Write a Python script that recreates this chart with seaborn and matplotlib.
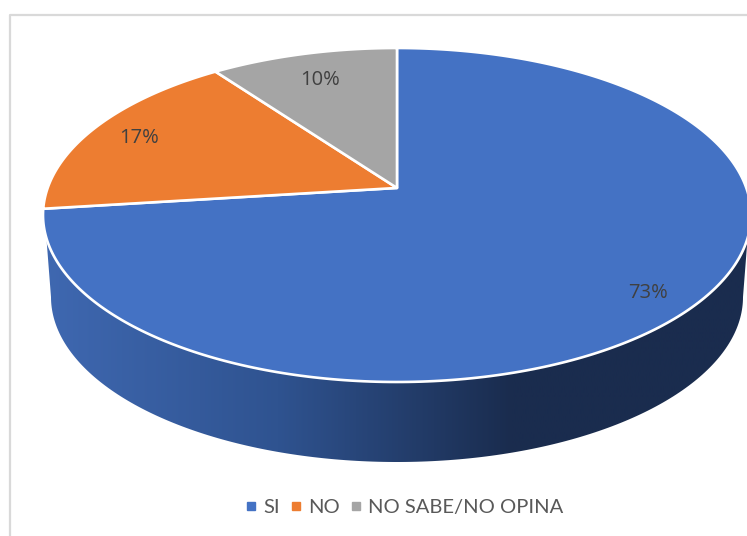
import numpy as np
import seaborn as sns
import matplotlib.pyplot as plt
from matplotlib.lines import Line2D
from matplotlib.patches import Polygon

categories = ["SI", "NO", "NO SABE/NO OPINA"]
percents = [73, 17, 10]
colors = ["#4472C4", "#ED7D31", "#A5A5A5"]
side_colors = ["#3F68B1", "#2F5390", "#1A2C4E", "#1A2C4E"]

CX, CY, RX, RY = 397, 215, 354, 167  # top ellipse, in pixels
TILT = 0.162  # how far the pie centre sits above the ellipse centre
BOTTOM_Y, BOTTOM_RX, BOTTOM_RY = 297, 346, 165
label_radius = [0.87, 0.85, 0.80]


def project(theta, r=1.0):
    # theta is clockwise from 12 o'clock; perspective keeps the rim on the ellipse
    u = r * np.sin(theta)
    v = r * np.cos(theta)
    d = 1 + TILT * v
    x = u * np.sqrt(1 - TILT ** 2) / d
    y = (v + TILT) / d
    return CX + RX * x, CY - RY * y


sns.set_theme(style="white")
plt.rcParams["font.family"] = ["Lato", "DejaVu Sans"]

fig = plt.figure(figsize=(7.47, 5.36), dpi=100)
ax = fig.add_axes([0, 0, 1, 1])
ax.set_xlim(0, 747)
ax.set_ylim(536, 0)
ax.axis("off")

# chart frame, cropped by the image on the right and at the bottom
ax.plot([9.5, 9.5, 747], [536, 14.5, 14.5], color="#D9D9D9", lw=1.6, zorder=1)

# side wall with horizontal gradient
phi = np.linspace(np.pi + 0.139, 2 * np.pi - 0.139, 200)
top_x = CX + RX * np.cos(phi)
top_y = CY - RY * np.sin(phi)
psi = np.linspace(2 * np.pi, np.pi, 200)
bot_x = CX + BOTTOM_RX * np.cos(psi)
bot_y = BOTTOM_Y - BOTTOM_RY * np.sin(psi)
wall = Polygon(np.column_stack([np.r_[top_x, bot_x], np.r_[top_y, bot_y]]),
               closed=True, fc="none", ec="none", transform=ax.transData)
ax.add_patch(wall)
ramp = sns.blend_palette(side_colors, n_colors=256, as_cmap=True)
img = ax.imshow(np.linspace(0, 1, 256)[None, :], cmap=ramp, aspect="auto",
                extent=(43, 747, 536, 0), zorder=2)
img.set_clip_path(wall)
ax.set_xlim(0, 747)
ax.set_ylim(536, 0)

# slices, clockwise from the top
edges = np.cumsum([0] + percents) / sum(percents) * 2 * np.pi
for i in range(len(percents)):
    t = np.linspace(edges[i], edges[i + 1], 300)
    x, y = project(t)
    apex_x, apex_y = project(0.0, 0.0)
    ax.fill(np.r_[apex_x, x], np.r_[apex_y, y], facecolor=colors[i],
            edgecolor="white", lw=1.9, joinstyle="round", zorder=3)

    mid = (edges[i] + edges[i + 1]) / 2
    lx, ly = project(mid, label_radius[i])
    ax.text(lx, ly + 2, "%d%%" % percents[i], ha="center", va="center",
            fontsize=14.5, family=["Open Sans", "DejaVu Sans"], color="#404040", zorder=4)

handles = [Line2D([], [], ls="none", marker="s", ms=5.7, color=c) for c in colors]
ax.legend(handles, categories, loc="center", bbox_to_anchor=(402 / 747, 1 - 507.5 / 536),
          ncol=3, frameon=False, fontsize=14.5, labelcolor="#595959",
          handletextpad=0.1, columnspacing=0.3, handlelength=1.0,
          borderpad=0, borderaxespad=0)

fig.savefig("out.png", dpi=100)
